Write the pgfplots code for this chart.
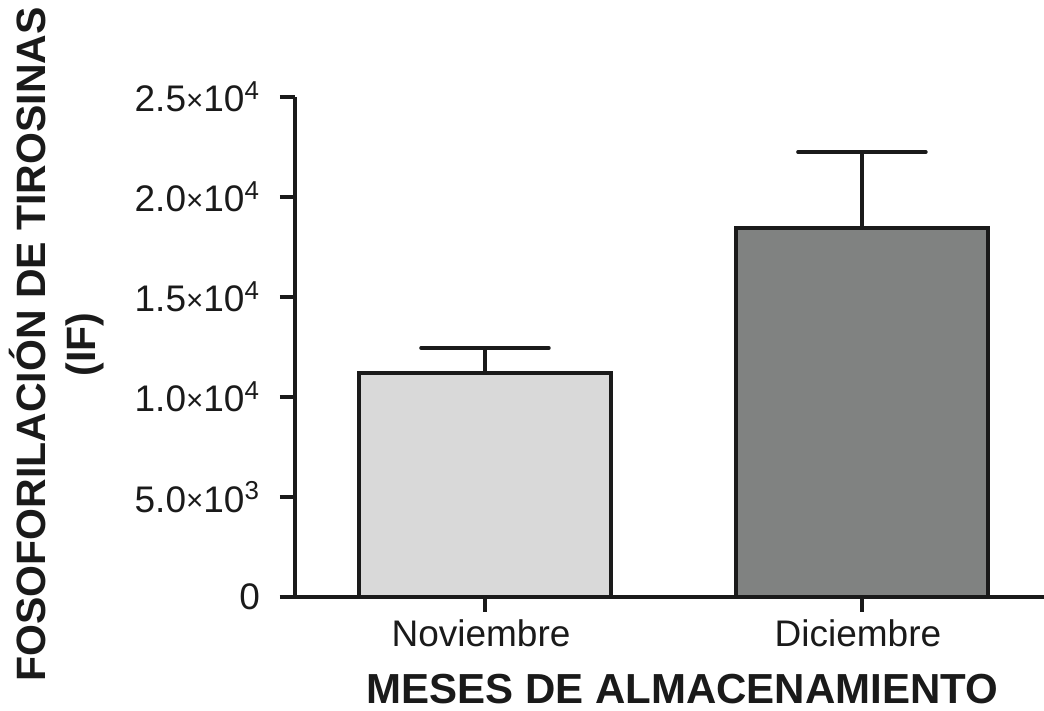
\documentclass[border=0pt]{standalone}
\usepackage{fontspec}
\setmainfont{Liberation Sans}
\usepackage{graphicx}
\usepackage{pgfplots}
\pgfplotsset{compat=1.18}
\definecolor{barlight}{RGB}{217,217,217}
\definecolor{bardark}{RGB}{128,130,129}
\definecolor{ink}{RGB}{26,26,26}
\newcommand{\tms}{\raisebox{0.05em}{\scalebox{0.8}{×}}}
\begin{document}
\begin{tikzpicture}
\useasboundingbox (0,0) rectangle (522pt,355.5pt);
\begin{axis}[
  at={(147.5pt,57pt)}, anchor=south west,
  scale only axis, width=374.5pt, height=250pt,
  xmin=-0.504, xmax=1.483, ymin=0, ymax=25000,
  axis x line=bottom, axis y line=left,
  axis line style={line width=2pt, -, ink},
  x axis line style={shorten <=-7.5pt},
  xtick={0,1}, xticklabels={Noviembre,Diciembre},
  ytick={0,5000,10000,15000,20000,25000},
  yticklabels={0,
    5.0\tms10\textsuperscript{3},
    1.0\tms10\textsuperscript{4},
    1.5\tms10\textsuperscript{4},
    2.0\tms10\textsuperscript{4},
    2.5\tms10\textsuperscript{4}},
  scaled y ticks=false,
  tick align=outside, major tick length=7.5pt,
  tick style={line width=2pt, ink},
  yticklabel style={font=\fontsize{18.5}{22}\selectfont, text=ink, xshift=-6.5pt},
  xticklabel style={font=\fontsize{18.5}{22}\selectfont, text=ink, yshift=-0.5pt, xshift=-2pt},
  xlabel={MESES DE ALMACENAMIENTO},
  xlabel style={at={(axis description cs:0.517,-0.212)}, anchor=base,
    font=\bfseries\fontsize{21}{25}\selectfont, text=ink},
  ylabel={FOSOFORILACIÓN DE TIROSINAS\\(IF)},
  ylabel style={at={(axis description cs:-0.318,0.505)}, anchor=center,
    align=center, font=\bfseries\fontsize{20.5}{25}\selectfont, text=ink},
  ybar, bar width=126pt,
  clip=false,
]
\addplot[fill=barlight, draw=ink, line width=2pt, bar shift=0pt,
  error bars/.cd, y dir=plus, y explicit, error mark=|,
  error bar style={line width=1.75pt, ink},
  error mark options={mark size=32pt, line width=1.75pt, ink, line cap=round}]
  coordinates {(0,11200) +- (0,1250)};
\addplot[fill=bardark, draw=ink, line width=2pt, bar shift=0pt,
  error bars/.cd, y dir=plus, y explicit, error mark=|,
  error bar style={line width=1.75pt, ink},
  error mark options={mark size=32pt, line width=1.75pt, ink, line cap=round}]
  coordinates {(1,18450) +- (0,3800)};
\end{axis}
\end{tikzpicture}
\end{document}
